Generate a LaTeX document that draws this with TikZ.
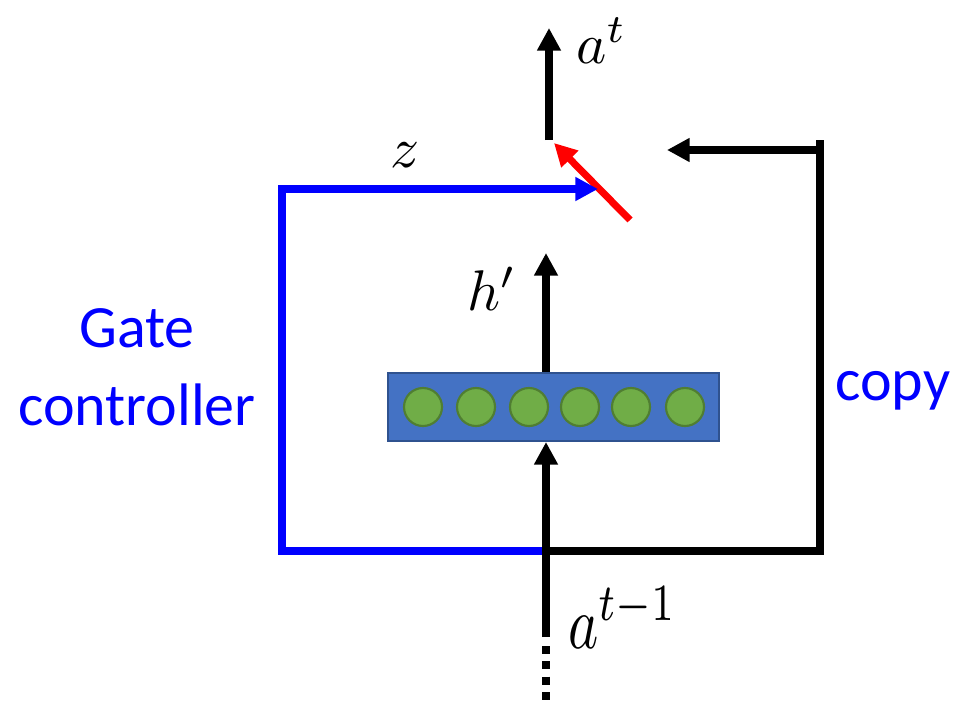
\documentclass[tikz,border=0pt]{standalone}
\usepackage{fontspec}
\setmainfont{Carlito}
\usetikzlibrary{arrows.meta}
\definecolor{boxfill}{HTML}{4472C4}
\definecolor{boxdraw}{HTML}{2F528F}
\definecolor{cellfill}{HTML}{70AD47}
\definecolor{celldraw}{HTML}{507E32}
\tikzset{
  wire/.style={line width=5.3pt},
  arr/.style={wire,-{Triangle[length=17pt,width=17pt]}},
  cell/.style={circle,minimum size=28.5pt,inner sep=0pt,fill=cellfill,draw=celldraw,line width=1.6pt},
  lbl/.style={inner sep=0pt,anchor=base west},
  txt/.style={inner sep=0pt,text=blue,font=\fontsize{45}{58}\selectfont}
}
\begin{document}
\begin{tikzpicture}[x=0.75pt,y=-0.75pt]
\useasboundingbox (0,0) rectangle (959,703);
% layer box
\node[draw=boxdraw,fill=boxfill,line width=1.5pt,minimum width=248pt,minimum height=51pt,inner sep=0pt] (box) at (553.5,407) {};
\foreach \i/\x in {1/423,2/476,3/529,4/580,5/631,6/685}{
  \node[cell] (c\i) at (\x,407) {};
}
% coordinates
\coordinate (atTop) at (549,28);
\coordinate (atBot) at (549,140);
\coordinate (redS) at (630,220);
\coordinate (redE) at (554,143);
\coordinate (split) at (548,551);
\coordinate (bl) at (282,551);
\coordinate (blt) at (282,189);
\coordinate (blueE) at (598,189);
\coordinate (br) at (820,551);
\coordinate (brt) at (820,140);
\coordinate (cpS) at (820,150);
\coordinate (cpE) at (667,150);
\coordinate (inS) at (546,637);
\coordinate (dotS) at (546,646);
\coordinate (dotE) at (546,703);
\coordinate (hS) at (546,373);
\coordinate (hE) at (546,253);
% output arrow
\draw[arr] (atBot) -- (atTop);
% red switch
\draw[arr,red] (redS) -- (redE);
% gate controller path
\draw[wire,blue,line join=miter] (split) -- (bl) -- (blt) -- ++(3,0);
\draw[arr,blue] (blt) -- (blueE);
% copy path
\draw[wire] (split) -- (br) -- (brt);
\draw[arr] (cpS) -- (cpE);
% input
\draw[arr] (inS) -- (box.south -| inS);
\draw[wire,dash pattern=on 6pt off 5.5pt] (dotS) -- (dotE);
% h'
\draw[arr] (box.north -| hS) -- (hE);
% labels
\node[lbl] (lat) at (576,63) {\scalebox{4.3}{$a^t$}};
\node[lbl] (lz) at (390,167) {\scalebox{4.3}{$z$}};
\node[lbl] (lh) at (467,310) {\scalebox{4.3}{$h'$}};
\node[lbl] (lat1) at (568,648) {\scalebox{4.3}[5.6]{$a^{t-1}$}};
\node[txt,align=center,anchor=base] (gc) at (137,425) {Gate\\controller};
\node[txt,anchor=base west] (cp) at (835,400) {copy};
\end{tikzpicture}
\end{document}
